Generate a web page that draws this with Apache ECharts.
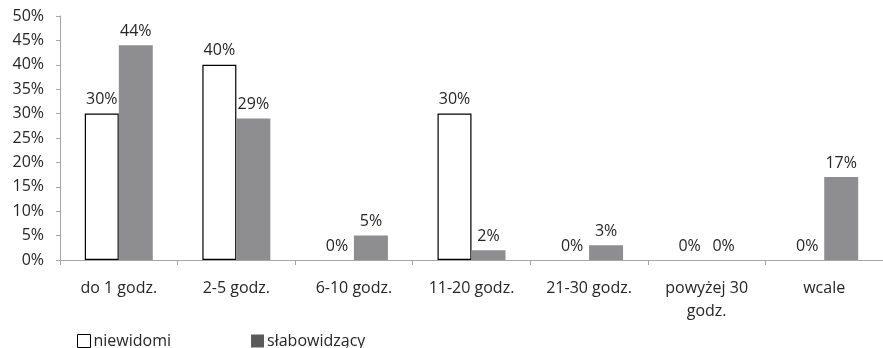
<!DOCTYPE html>
<html>
<head>
<meta charset="utf-8">
<script src="https://cdn.jsdelivr.net/npm/echarts@6/dist/echarts.min.js"></script>
<style>
  html, body { margin: 0; padding: 0; background: #fff; }
  #chart { width: 883px; height: 348px; }
</style>
</head>
<body>
<div id="chart"></div>
<script>
// Hours per week categories and shares (%) for each group
const categories = ['do 1 godz.', '2-5 godz.', '6-10 godz.', '11-20 godz.', '21-30 godz.', 'powyżej 30\ngodz.', 'wcale'];
const niewidomi = [30, 40, 0, 30, 0, 0, 0];
const slabowidzacy = [44, 29, 5, 2, 3, 0, 17];
const yTicks = [0, 5, 10, 15, 20, 25, 30, 35, 40, 45, 50];

const FONT = '"Open Sans", sans-serif';
const TEXT = '#262626';
const FS = 16;

const chart = echarts.init(document.getElementById('chart'), null, { renderer: 'canvas' });

const labelCfg = {
  show: true,
  position: 'top',
  distance: 6,
  formatter: p => p.value + '%',
  color: TEXT,
  fontFamily: FONT,
  fontSize: FS
};

// zero-height bars carry only their label, no outline
const withHiddenZeros = arr => arr.map(v => (v === 0 ? { value: v, itemStyle: { borderWidth: 0, color: 'rgba(0,0,0,0)' } } : v));

chart.setOption({
  animation: false,
  backgroundColor: '#ffffff',
  grid: { left: 60, right: -5, top: 16, bottom: 88, containLabel: false },
  legend: {
    left: 77,
    top: 333,
    padding: 0,
    itemWidth: 13,
    itemHeight: 13,
    itemGap: 80,
    icon: 'rect',
    textStyle: { color: TEXT, fontFamily: FONT, fontSize: FS, padding: [0, 0, 0, -2] },
    data: [
      { name: 'niewidomi', itemStyle: { color: '#ffffff', borderColor: '#000', borderWidth: 1 } },
      { name: 'słabowidzący', itemStyle: { color: '#5a5a5a', borderWidth: 0 } }
    ]
  },
  xAxis: {
    type: 'category',
    data: categories,
    axisLine: { lineStyle: { color: '#a6a6a6', width: 1 } },
    axisTick: { show: true, length: 5, lineStyle: { color: '#a6a6a6' } },
    axisLabel: { color: TEXT, fontFamily: FONT, fontSize: FS, margin: 17, lineHeight: 23, interval: 0 }
  },
  yAxis: {
    type: 'value',
    min: 0,
    max: 50,
    interval: 5,
    axisLine: { show: true, lineStyle: { color: '#a6a6a6', width: 1 } },
    axisTick: { show: true, length: 4, lineStyle: { color: '#a6a6a6' } },
    splitLine: { show: false },
    axisLabel: {
      color: TEXT, fontFamily: FONT, fontSize: FS, margin: 16,
      formatter: v => (yTicks.indexOf(v) >= 0 ? v + '%' : '')
    }
  },
  series: [
    {
      name: 'niewidomi',
      type: 'bar',
      data: withHiddenZeros(niewidomi),
      barWidth: 34,
      barGap: '0%',
      itemStyle: { color: '#ffffff', borderColor: '#000000', borderWidth: 1.2 },
      label: labelCfg
    },
    {
      name: 'słabowidzący',
      type: 'bar',
      data: withHiddenZeros(slabowidzacy),
      barWidth: 34,
      barGap: '0%',
      itemStyle: { color: '#8e8e91' },
      label: labelCfg
    }
  ]
});
</script>
</body>
</html>
